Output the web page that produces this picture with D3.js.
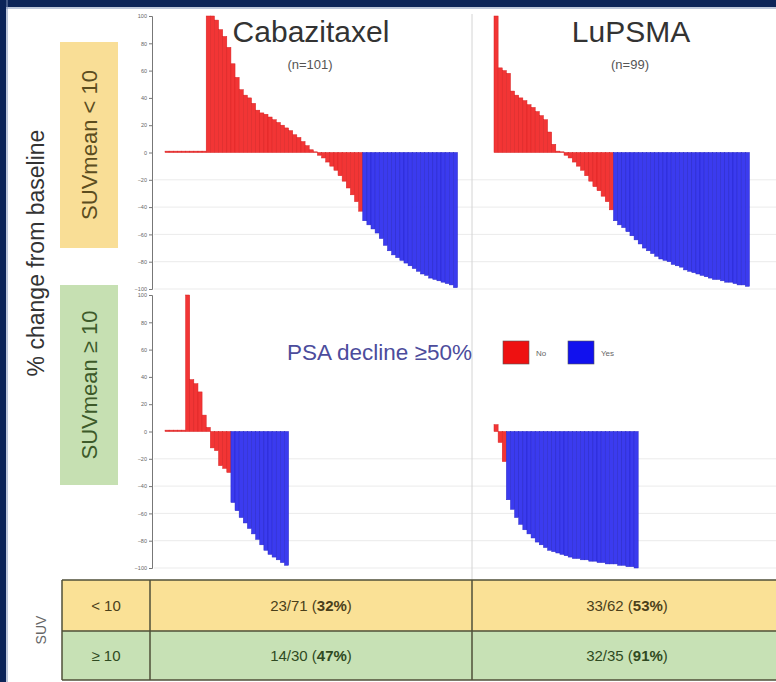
<!DOCTYPE html>
<html>
<head>
<meta charset="utf-8">
<script src="https://cdn.jsdelivr.net/npm/d3@7"></script>
<style>
  html, body { margin: 0; padding: 0; background: #ffffff; }
  svg { display: block; font-family: "Liberation Sans", Arial, sans-serif; }
</style>
</head>
<body>
<svg id="chart" width="776" height="682"></svg>
<script>
// Treatment arms (columns) and SUVmean strata (rows)
const arms = ["Cabazitaxel", "LuPSMA"];
const armCounts = ["(n=101)", "(n=99)"];
const strata = ["SUVmean < 10", "SUVmean \u2265 10"];
const strataShort = ["< 10", "\u2265 10"];

// % change in PSA from baseline, one value per patient, sorted for the waterfall
const cabazitaxelLow = [
  1, 1, 1, 1, 1, 1, 1, 1, 1, 1,
  100, 100, 97, 90, 85, 77, 65, 55, 46, 42,
  40, 36, 31, 29, 28, 26, 24, 22, 20, 18,
  16, 13, 11, 8, 5, 2, 0.5, -2, -4, -7,
  -10, -13, -17, -21, -26, -31, -36, -43,
  -50, -53, -56, -59, -63, -68, -72, -75, -77, -79,
  -81, -83, -85, -87, -89, -90, -92, -93, -94, -95,
  -96, -97, -99
];
const lupsmaLow = [
  100, 62, 60, 58, 45, 42, 40, 38, 35, 33,
  30, 27, 24, 15, 6, 1, 0.5, -2, -4, -7,
  -10, -13, -17, -21, -25, -28, -32, -36, -42,
  -50, -53, -55, -58, -61, -64, -67, -70, -72, -74,
  -76, -78, -79, -80, -82, -83, -84, -86, -87, -88,
  -89, -90, -91, -92, -93, -93, -94, -95, -95, -96,
  -97, -97, -98
];
const cabazitaxelHigh = [
  1, 1, 1, 1, 1, 100, 38, 35, 29, 12,
  3, -12, -14, -25, -27, -30,
  -52, -58, -63, -67, -71, -75, -79, -83, -87, -90,
  -92, -94, -96, -98
];
const lupsmaHigh = [
  5, -8, -22,
  -50, -57, -63, -68, -72, -75, -78, -81, -83, -85,
  -87, -88, -89, -90, -91, -92, -93, -93, -94, -94,
  -95, -95, -96, -96, -97, -97, -97, -98, -98, -99,
  -99, -100
];

// Axis ticks for % change
const yTicks = [100, 80, 60, 40, 20, 0, -20, -40, -60, -80, -100];

// Legend: PSA decline >= 50%
const legendTitle = "PSA decline \u226550%";
const legendKeys = ["No", "Yes"];

const colors = { no: "#f23535", yes: "#3b3bef", noEdge: "#d82020", yesEdge: "#2525c8" };

const svg = d3.select("#chart");

// ---- frame ----
svg.append("rect").attr("x", 0).attr("y", 0).attr("width", 776).attr("height", 682).attr("fill", "#ffffff");
svg.append("rect").attr("x", 0).attr("y", 0).attr("width", 776).attr("height", 7).attr("fill", "#0c2458");
svg.append("rect").attr("x", 0).attr("y", 7).attr("width", 776).attr("height", 2).attr("fill", "#7d8fb5").attr("opacity", 0.5);
svg.append("rect").attr("x", 0).attr("y", 0).attr("width", 6).attr("height", 682).attr("fill", "#0c2458");
svg.append("rect").attr("x", 6).attr("y", 0).attr("width", 2).attr("height", 682).attr("fill", "#7d8fb5").attr("opacity", 0.5);

// ---- panel geometry ----
const step = 4.12;
const colStart = [165, 494];
const axisX = 152;
const rowRange = [[289, 16], [568, 295]];
const panels = [
  { row: 0, col: 0, data: cabazitaxelLow },
  { row: 0, col: 1, data: lupsmaLow },
  { row: 1, col: 0, data: cabazitaxelHigh },
  { row: 1, col: 1, data: lupsmaHigh }
];

const yScales = rowRange.map(r => d3.scaleLinear().domain([-100, 100]).range(r).clamp(true));

// light horizontal grid
yScales.forEach(y => {
  svg.append("g").selectAll("line").data(yTicks.filter(t => t < 0)).join("line")
    .attr("x1", axisX + 2).attr("x2", 776)
    .attr("y1", d => y(d)).attr("y2", d => y(d))
    .attr("stroke", "#ebebeb").attr("stroke-width", 1);
});

// column divider
svg.append("line").attr("x1", 472).attr("x2", 472).attr("y1", 14).attr("y2", 580)
  .attr("stroke", "#d4d4d4").attr("stroke-width", 1);

// y axes on the left column
yScales.forEach(y => {
  const ax = d3.axisLeft(y).tickValues(yTicks).tickSize(3).tickPadding(2).tickFormat(d3.format("d"));
  const g = svg.append("g").attr("transform", `translate(${axisX},0)`).call(ax);
  g.select(".domain").attr("stroke", "#777");
  g.selectAll(".tick line").attr("stroke", "#777");
  g.selectAll(".tick text").attr("font-size", 5.5).attr("fill", "#666")
    .attr("font-family", "Liberation Sans, Arial, sans-serif");
});

// waterfall bars
panels.forEach(p => {
  const x = d3.scaleBand()
    .domain(d3.range(p.data.length))
    .range([colStart[p.col], colStart[p.col] + step * p.data.length])
    .padding(0);
  const y = yScales[p.row];
  svg.append("g").selectAll("rect").data(p.data).join("rect")
    .attr("x", (d, i) => x(i))
    .attr("width", x.bandwidth())
    .attr("y", d => y(Math.max(0, d)))
    .attr("height", d => Math.abs(y(d) - y(0)))
    .attr("fill", d => d <= -50 ? colors.yes : colors.no)
    .attr("stroke", d => d <= -50 ? colors.yesEdge : colors.noEdge)
    .attr("stroke-width", 0.5);
});

// arm titles
const titleX = [311, 631];
arms.forEach((a, i) => {
  svg.append("text").attr("x", titleX[i]).attr("y", 42).attr("text-anchor", "middle")
    .attr("font-size", 30).attr("fill", "#333").text(a);
  svg.append("text").attr("x", titleX[i] - 1).attr("y", 69).attr("text-anchor", "middle")
    .attr("font-size", 13).attr("fill", "#555").text(armCounts[i]);
});

// y title
svg.append("text").attr("transform", "translate(44,253) rotate(-90)").attr("text-anchor", "middle")
  .attr("font-size", 23).attr("fill", "#333").text("% change from baseline");

// strata boxes
const stratBox = [
  { y0: 42, y1: 248, fill: "#f9de96", text: "#5c4d1f" },
  { y0: 285, y1: 485, fill: "#c6e0b2", text: "#3d5a2a" }
];
stratBox.forEach((b, i) => {
  svg.append("rect").attr("x", 60).attr("y", b.y0).attr("width", 58).attr("height", b.y1 - b.y0).attr("fill", b.fill);
  svg.append("text").attr("transform", `translate(97,${(b.y0 + b.y1) / 2}) rotate(-90)`)
    .attr("text-anchor", "middle").attr("font-size", 22).attr("fill", b.text).text(strata[i]);
});

// legend
svg.append("text").attr("x", 287).attr("y", 360).attr("font-size", 22.5).attr("fill", "#4c4c9c").text(legendTitle);
const swX = [503, 568];
legendKeys.forEach((k, i) => {
  svg.append("rect").attr("x", swX[i]).attr("y", 341).attr("width", 26).attr("height", 23)
    .attr("fill", i === 0 ? "#ee1111" : "#1111ee").attr("stroke", "#555").attr("stroke-width", 0.6);
  svg.append("text").attr("x", swX[i] + 33).attr("y", 356).attr("font-size", 8).attr("fill", "#666").text(k);
});

// response summary table
const tableRows = [[cabazitaxelLow, lupsmaLow], [cabazitaxelHigh, lupsmaHigh]];
const rowY = [580, 631, 680];
const rowFill = ["#fae196", "#c7e1b5"];
const textFill = ["#4a3f1a", "#2f4a22"];
rowFill.forEach((f, r) => {
  svg.append("rect").attr("x", 62).attr("y", rowY[r]).attr("width", 714).attr("height", rowY[r + 1] - rowY[r]).attr("fill", f);
  const cy = (rowY[r] + rowY[r + 1]) / 2 + 5;
  svg.append("text").attr("x", 106).attr("y", cy).attr("text-anchor", "middle")
    .attr("font-size", 15).attr("fill", textFill[r]).text(strataShort[r]);
  [311, 627].forEach((cx, c) => {
    const d = tableRows[r][c];
    const resp = d.filter(v => v <= -50).length;
    const pct = Math.round(100 * resp / d.length);
    const t = svg.append("text").attr("x", cx).attr("y", cy).attr("text-anchor", "middle")
      .attr("font-size", 15).attr("fill", textFill[r]);
    t.append("tspan").text(`${resp}/${d.length} (`);
    t.append("tspan").attr("font-weight", "bold").text(`${pct}%`);
    t.append("tspan").text(")");
  });
});
const lineColor = "#4f4f38";
rowY.forEach(y => svg.append("line").attr("x1", 62).attr("x2", 776).attr("y1", y).attr("y2", y)
  .attr("stroke", lineColor).attr("stroke-width", 1.5));
[62, 150, 472].forEach(x => svg.append("line").attr("x1", x).attr("x2", x).attr("y1", 580).attr("y2", 680)
  .attr("stroke", lineColor).attr("stroke-width", 1.5));
svg.append("text").attr("transform", "translate(46,630) rotate(-90)").attr("text-anchor", "middle")
  .attr("font-size", 14).attr("fill", "#666").text("SUV");
</script>
</body>
</html>
